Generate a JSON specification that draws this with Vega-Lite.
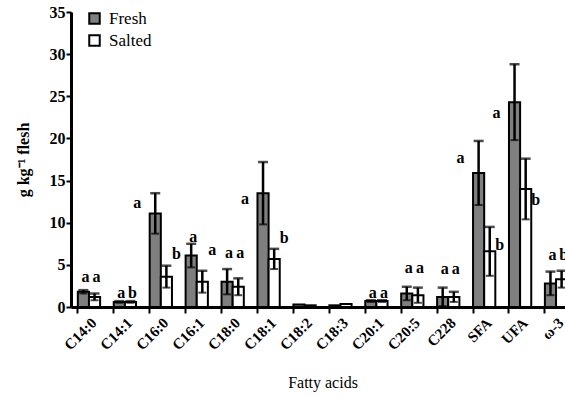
{
  "$schema": "https://vega.github.io/schema/vega-lite/v6.json",
  "width": 494,
  "height": 295,
  "autosize": {"type": "none"},
  "padding": {"left": 71, "top": 12, "right": 0, "bottom": 90},
  "background": "white",
  "config": {
    "view": {"stroke": null},
    "font": "Liberation Serif",
    "axis": {"grid": false, "domainColor": "black", "tickColor": "black", "labelColor": "black", "titleColor": "black"}
  },
  "data": {"values": [
    {"acid": "C14:0", "group": "Fresh", "mean": 1.8, "sd": 0.2, "letter": "a", "ly": 3.6, "side": "above"},
    {"acid": "C14:0", "group": "Salted", "mean": 1.2, "sd": 0.4, "letter": "a", "ly": 3.6, "side": "above"},
    {"acid": "C14:1", "group": "Fresh", "mean": 0.6, "sd": 0.1, "letter": "a", "ly": 1.7, "side": "above"},
    {"acid": "C14:1", "group": "Salted", "mean": 0.6, "sd": 0.1, "letter": "b", "ly": 1.7, "side": "above"},
    {"acid": "C16:0", "group": "Fresh", "mean": 11.1, "sd": 2.4, "letter": "a", "ly": 12.3, "side": "left"},
    {"acid": "C16:0", "group": "Salted", "mean": 3.6, "sd": 1.3, "letter": "b", "ly": 6.3, "side": "right"},
    {"acid": "C16:1", "group": "Fresh", "mean": 6.1, "sd": 1.4, "letter": "a", "ly": 8.3, "side": "above"},
    {"acid": "C16:1", "group": "Salted", "mean": 3.0, "sd": 1.3, "letter": "a", "ly": 6.8, "side": "right"},
    {"acid": "C18:0", "group": "Fresh", "mean": 3.0, "sd": 1.5, "letter": "a", "ly": 6.4, "side": "above"},
    {"acid": "C18:0", "group": "Salted", "mean": 2.4, "sd": 1.0, "letter": "a", "ly": 6.4, "side": "above"},
    {"acid": "C18:1", "group": "Fresh", "mean": 13.5, "sd": 3.7, "letter": "a", "ly": 12.8, "side": "left"},
    {"acid": "C18:1", "group": "Salted", "mean": 5.7, "sd": 1.2, "letter": "b", "ly": 8.2, "side": "right"},
    {"acid": "C18:2", "group": "Fresh", "mean": 0.3, "sd": 0, "letter": "", "ly": 0, "side": "none"},
    {"acid": "C18:2", "group": "Salted", "mean": 0.2, "sd": 0, "letter": "", "ly": 0, "side": "none"},
    {"acid": "C18:3", "group": "Fresh", "mean": 0.2, "sd": 0, "letter": "", "ly": 0, "side": "none"},
    {"acid": "C18:3", "group": "Salted", "mean": 0.35, "sd": 0, "letter": "", "ly": 0, "side": "none"},
    {"acid": "C20:1", "group": "Fresh", "mean": 0.7, "sd": 0.1, "letter": "a", "ly": 1.7, "side": "above"},
    {"acid": "C20:1", "group": "Salted", "mean": 0.7, "sd": 0.1, "letter": "a", "ly": 1.7, "side": "above"},
    {"acid": "C20:5", "group": "Fresh", "mean": 1.6, "sd": 0.8, "letter": "a", "ly": 4.6, "side": "above"},
    {"acid": "C20:5", "group": "Salted", "mean": 1.4, "sd": 0.9, "letter": "a", "ly": 4.6, "side": "above"},
    {"acid": "C228", "group": "Fresh", "mean": 1.2, "sd": 1.1, "letter": "a", "ly": 4.5, "side": "above"},
    {"acid": "C228", "group": "Salted", "mean": 1.2, "sd": 0.6, "letter": "a", "ly": 4.5, "side": "above"},
    {"acid": "SFA", "group": "Fresh", "mean": 15.9, "sd": 3.8, "letter": "a", "ly": 17.7, "side": "left"},
    {"acid": "SFA", "group": "Salted", "mean": 6.6, "sd": 2.9, "letter": "b", "ly": 7.4, "side": "right"},
    {"acid": "UFA", "group": "Fresh", "mean": 24.3, "sd": 4.5, "letter": "a", "ly": 23.0, "side": "left"},
    {"acid": "UFA", "group": "Salted", "mean": 14.0, "sd": 3.6, "letter": "b", "ly": 12.7, "side": "right"},
    {"acid": "ω-3", "group": "Fresh", "mean": 2.8, "sd": 1.4, "letter": "a", "ly": 6.2, "side": "above"},
    {"acid": "ω-3", "group": "Salted", "mean": 3.3, "sd": 1.0, "letter": "b", "ly": 6.2, "side": "above"}
  ]},
  "encoding": {
    "x": {
      "field": "acid", "type": "nominal", "sort": null,
      "scale": {"range": [0, 503], "paddingInner": 0.38, "paddingOuter": 0.19},
      "axis": {
        "title": "Fatty acids", "titleFont": "Liberation Serif", "titleFontSize": 16, "titleFontWeight": "normal", "titlePadding": 22,
        "labelAngle": -45, "labelFont": "Liberation Serif", "labelFontSize": 15, "labelFontWeight": "bold", "labelPadding": 2,
        "bandPosition": 0, "domainWidth": 3, "tickWidth": 2, "tickSize": 6
      }
    },
    "xOffset": {"field": "group", "type": "nominal", "scale": {"paddingInner": 0, "paddingOuter": 0}}
  },
  "layer": [
    {
      "mark": {"type": "bar", "stroke": "black", "strokeWidth": 2},
      "encoding": {
        "y": {
          "field": "mean", "type": "quantitative",
          "scale": {"domain": [0, 35], "nice": false},
          "axis": {
            "values": [0, 5, 10, 15, 20, 25, 30, 35],
            "title": "g kg⁻¹ flesh", "titleFont": "Liberation Serif", "titleFontSize": 16, "titleFontWeight": "bold", "titlePadding": 18,
            "labelFont": "Liberation Serif", "labelFontSize": 16, "labelFontWeight": "bold", "labelPadding": 1,
            "domainWidth": 3, "tickWidth": 2, "tickSize": 5
          }
        },
        "fill": {
          "field": "group", "type": "nominal",
          "scale": {"domain": ["Fresh", "Salted"], "range": ["#7f7f7f", "#ffffff"]},
          "legend": {
            "title": null, "orient": "none", "legendX": 15, "legendY": -2,
            "symbolType": "square", "symbolSize": 110, "symbolStrokeColor": "black", "symbolStrokeWidth": 2,
            "labelFont": "Liberation Serif", "labelFontSize": 17, "labelColor": "black", "rowPadding": 3, "labelOffset": 6
          }
        }
      }
    },
    {
      "transform": [
        {"filter": "datum.sd > 0"},
        {"calculate": "datum.mean - datum.sd", "as": "lo"},
        {"calculate": "datum.mean + datum.sd", "as": "hi"}
      ],
      "layer": [
        {
          "mark": {"type": "rule", "color": "black", "strokeWidth": 2.5},
          "encoding": {"y": {"field": "lo", "type": "quantitative"}, "y2": {"field": "hi"}}
        },
        {
          "mark": {"type": "tick", "color": "black", "thickness": 2.5, "size": 10},
          "encoding": {"y": {"field": "hi", "type": "quantitative"}}
        },
        {
          "mark": {"type": "tick", "color": "black", "thickness": 2, "size": 8},
          "encoding": {"y": {"field": "lo", "type": "quantitative"}}
        }
      ]
    },
    {
      "transform": [{"filter": "datum.side === 'above'"}],
      "mark": {"type": "text", "font": "Liberation Serif", "fontSize": 16, "fontWeight": "bold", "color": "black", "dx": 2},
      "encoding": {"y": {"field": "ly", "type": "quantitative"}, "text": {"field": "letter"}}
    },
    {
      "transform": [{"filter": "datum.side === 'left'"}],
      "mark": {"type": "text", "font": "Liberation Serif", "fontSize": 16, "fontWeight": "bold", "color": "black", "dx": -18},
      "encoding": {"y": {"field": "ly", "type": "quantitative"}, "text": {"field": "letter"}}
    },
    {
      "transform": [{"filter": "datum.side === 'right'"}],
      "mark": {"type": "text", "font": "Liberation Serif", "fontSize": 16, "fontWeight": "bold", "color": "black", "dx": 10},
      "encoding": {"y": {"field": "ly", "type": "quantitative"}, "text": {"field": "letter"}}
    }
  ]
}
